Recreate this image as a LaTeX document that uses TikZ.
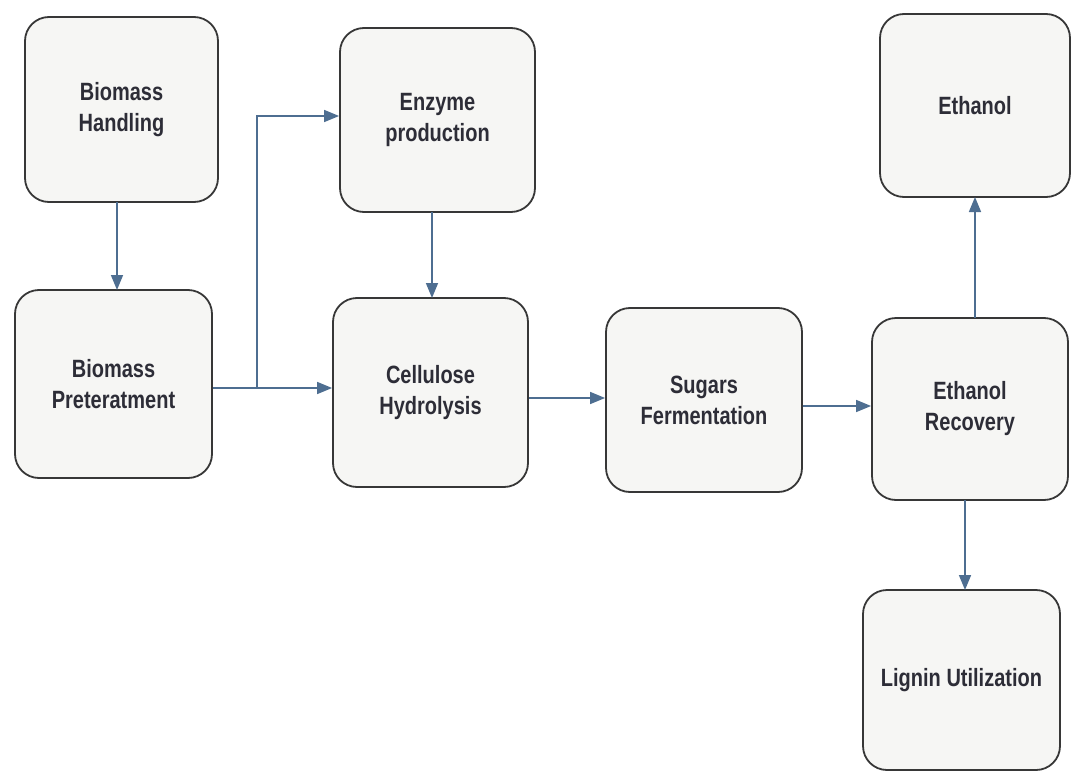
\documentclass[tikz,border=0pt]{standalone}
\usepackage{fontspec}
\setmainfont{Liberation Sans}[FakeStretch=0.8]
\usetikzlibrary{arrows.meta}
\definecolor{boxfill}{RGB}{246,246,244}
\definecolor{boxline}{RGB}{55,55,55}
\definecolor{arrowc}{RGB}{78,110,145}
\definecolor{txt}{RGB}{45,45,55}
\tikzset{
  stepbox/.style={draw=boxline, line width=1.8pt, fill=boxfill, rounded corners=24pt,
    minimum width=#1, align=center, text=txt,
    font=\fontsize{25}{31}\selectfont\bfseries, inner sep=0pt},
  link/.style={draw=arrowc, line width=1.6pt, -{Triangle[length=15pt,width=12pt]}}
}
\begin{document}
\begin{tikzpicture}[x=1pt,y=-1pt]
\useasboundingbox (0,0) rectangle (1072,771);
\node[stepbox=193pt, minimum height=185pt] (bh) at (121.5,109.5) {Biomass\\Handling};
\node[stepbox=197pt, minimum height=188pt] (bp) at (113.5,384) {Biomass\\Preteratment};
\node[stepbox=195pt, minimum height=184pt] (ep) at (437.5,120) {Enzyme\\production};
\node[stepbox=195pt, minimum height=189pt] (ch) at (430.5,392.5) {Cellulose\\Hydrolysis};
\node[stepbox=196pt, minimum height=184pt] (sf) at (704,400) {Sugars\\Fermentation};
\node[stepbox=190pt, minimum height=183pt] (et) at (975,105.5) {Ethanol};
\node[stepbox=196pt, minimum height=182pt] (er) at (970,409) {Ethanol\\Recovery};
\node[stepbox=197pt, minimum height=180pt] (lu) at (961.5,680) {Lignin Utilization};
\coordinate (br) at (257,388);
\draw[link] (117,202) -- (117,290);
\draw[link] (bp.east |- br) -- (ch.west |- br);
\draw[link] (br) -- (257,116) -- (ep.west |- 0,116);
\draw[link] (432,212) -- (432,298);
\draw[link] (ch.east |- 0,398) -- (sf.west |- 0,398);
\draw[link] (sf.east |- 0,406) -- (er.west |- 0,406);
\draw[link] (975,318) -- (975,197);
\draw[link] (965,500) -- (965,590);
\end{tikzpicture}
\end{document}
